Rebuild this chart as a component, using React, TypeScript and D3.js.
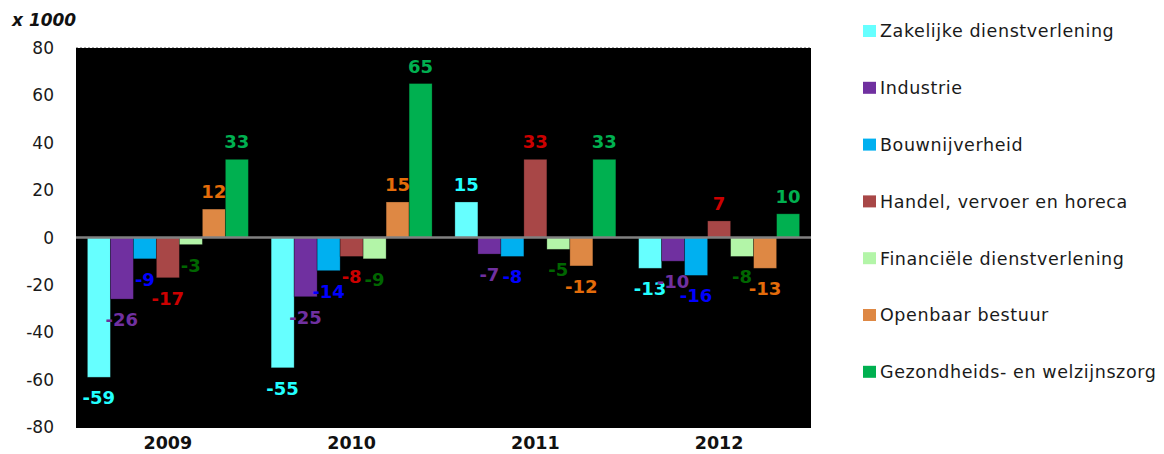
import * as d3 from "d3";
import { useEffect } from "react";

const years = ["2009", "2010", "2011", "2012"];
const sectors = [
  "Zakelijke dienstverlening",
  "Industrie",
  "Bouwnijverheid",
  "Handel, vervoer en horeca",
  "Financiële dienstverlening",
  "Openbaar bestuur",
  "Gezondheids- en welzijnszorg",
];
const zakelijke = [-59, -55, 15, -13];
const industrie = [-26, -25, -7, -10];
const bouw = [-9, -14, -8, -16];
const handel = [-17, -8, 33, 7];
const financieel = [-3, -9, -5, -8];
const openbaar = [12, 15, -12, -13];
const zorg = [33, 65, 33, 10];
const yTicks = [80, 60, 40, 20, 0, -20, -40, -60, -80];

const series = [zakelijke, industrie, bouw, handel, financieel, openbaar, zorg];
const barColors = ["#66FFFF", "#7030A0", "#00B0F0", "#A84747", "#B3F5A8", "#DE8844", "#00B050"];
const labelColors = ["#22FFFF", "#7030A0", "#0000FF", "#CC0000", "#006600", "#E46C0A", "#00B050"];

const W = 1164;
const H = 454;
const plot = { left: 76, right: 811, top: 48, bottom: 427 };
const FONT = "'DejaVu Sans', Verdana, sans-serif";

export default function App() {
  useEffect(() => {
    document.body.style.margin = "0";
  }, []);

  const x0 = d3
    .scaleBand<string>()
    .domain(years)
    .range([plot.left, plot.right])
    .paddingInner(0.124)
    .paddingOuter(0.062);
  const x1 = d3
    .scaleBand<number>()
    .domain(d3.range(sectors.length))
    .range([0, x0.bandwidth()]);
  const y = d3.scaleLinear().domain([-80, 80]).range([plot.bottom, plot.top]);
  const zero = y(0);

  return (
    <svg width={W} height={H} style={{ display: "block", fontFamily: FONT }}>
      <rect x={0} y={0} width={W} height={H} fill="#fff" />
      <rect
        x={plot.left}
        y={plot.top}
        width={plot.right - plot.left}
        height={plot.bottom - plot.top + 1}
        fill="#000"
      />
      <line
        x1={plot.left}
        x2={plot.right}
        y1={plot.top - 0.5}
        y2={plot.top - 0.5}
        stroke="#aaa"
        strokeDasharray="2 2"
      />
      <text x={12} y={26} fontSize={17} fontWeight="bold" fontStyle="italic" fill="#111">
        x 1000
      </text>

      {/* y tick labels */}
      {yTicks.map((t) => (
        <text
          key={t}
          x={54}
          y={y(t)}
          dy="0.36em"
          textAnchor="end"
          fontSize={17}
          fill="#1a1a1a"
        >
          {t}
        </text>
      ))}

      {/* bars */}
      {series.map((vals, si) =>
        vals.map((v, yi) => {
          const bx = x0(years[yi])! + x1(si)!;
          const top = Math.min(y(v), zero);
          return (
            <rect
              key={`${si}-${yi}`}
              x={bx}
              y={top}
              width={x1.bandwidth()}
              height={Math.abs(y(v) - zero)}
              fill={barColors[si]}
              stroke="rgba(0,0,0,0.35)"
              strokeWidth={0.8}
            />
          );
        })
      )}

      {/* zero line */}
      <line x1={plot.left} x2={plot.right} y1={zero} y2={zero} stroke="#808080" strokeWidth={2.5} />

      {/* value labels */}
      {series.map((vals, si) =>
        vals.map((v, yi) => {
          const cx = x0(years[yi])! + x1(si)! + x1.bandwidth() / 2;
          const ly = v >= 0 ? y(v) - 11 : y(v) + 27;
          return (
            <text
              key={`l${si}-${yi}`}
              x={cx}
              y={ly}
              textAnchor="middle"
              fontSize={18}
              fontWeight="bold"
              fill={labelColors[si]}
            >
              {v}
            </text>
          );
        })
      )}

      {/* x labels */}
      {years.map((yr) => (
        <text
          key={yr}
          x={x0(yr)! + x0.bandwidth() / 2}
          y={449}
          textAnchor="middle"
          fontSize={17.5}
          fontWeight="bold"
          fill="#111"
        >
          {yr}
        </text>
      ))}

      {/* legend */}
      {sectors.map((s, i) => {
        const ly = 31 + i * 56.8;
        return (
          <g key={s}>
            <rect x={863} y={ly - 6} width={13} height={12} fill={barColors[i]} />
            <text
              x={880}
              y={ly}
              dy="0.36em"
              fontSize={17.5}
              letterSpacing={0.6}
              fill="#1a1a1a"
            >
              {s}
            </text>
          </g>
        );
      })}
    </svg>
  );
}
